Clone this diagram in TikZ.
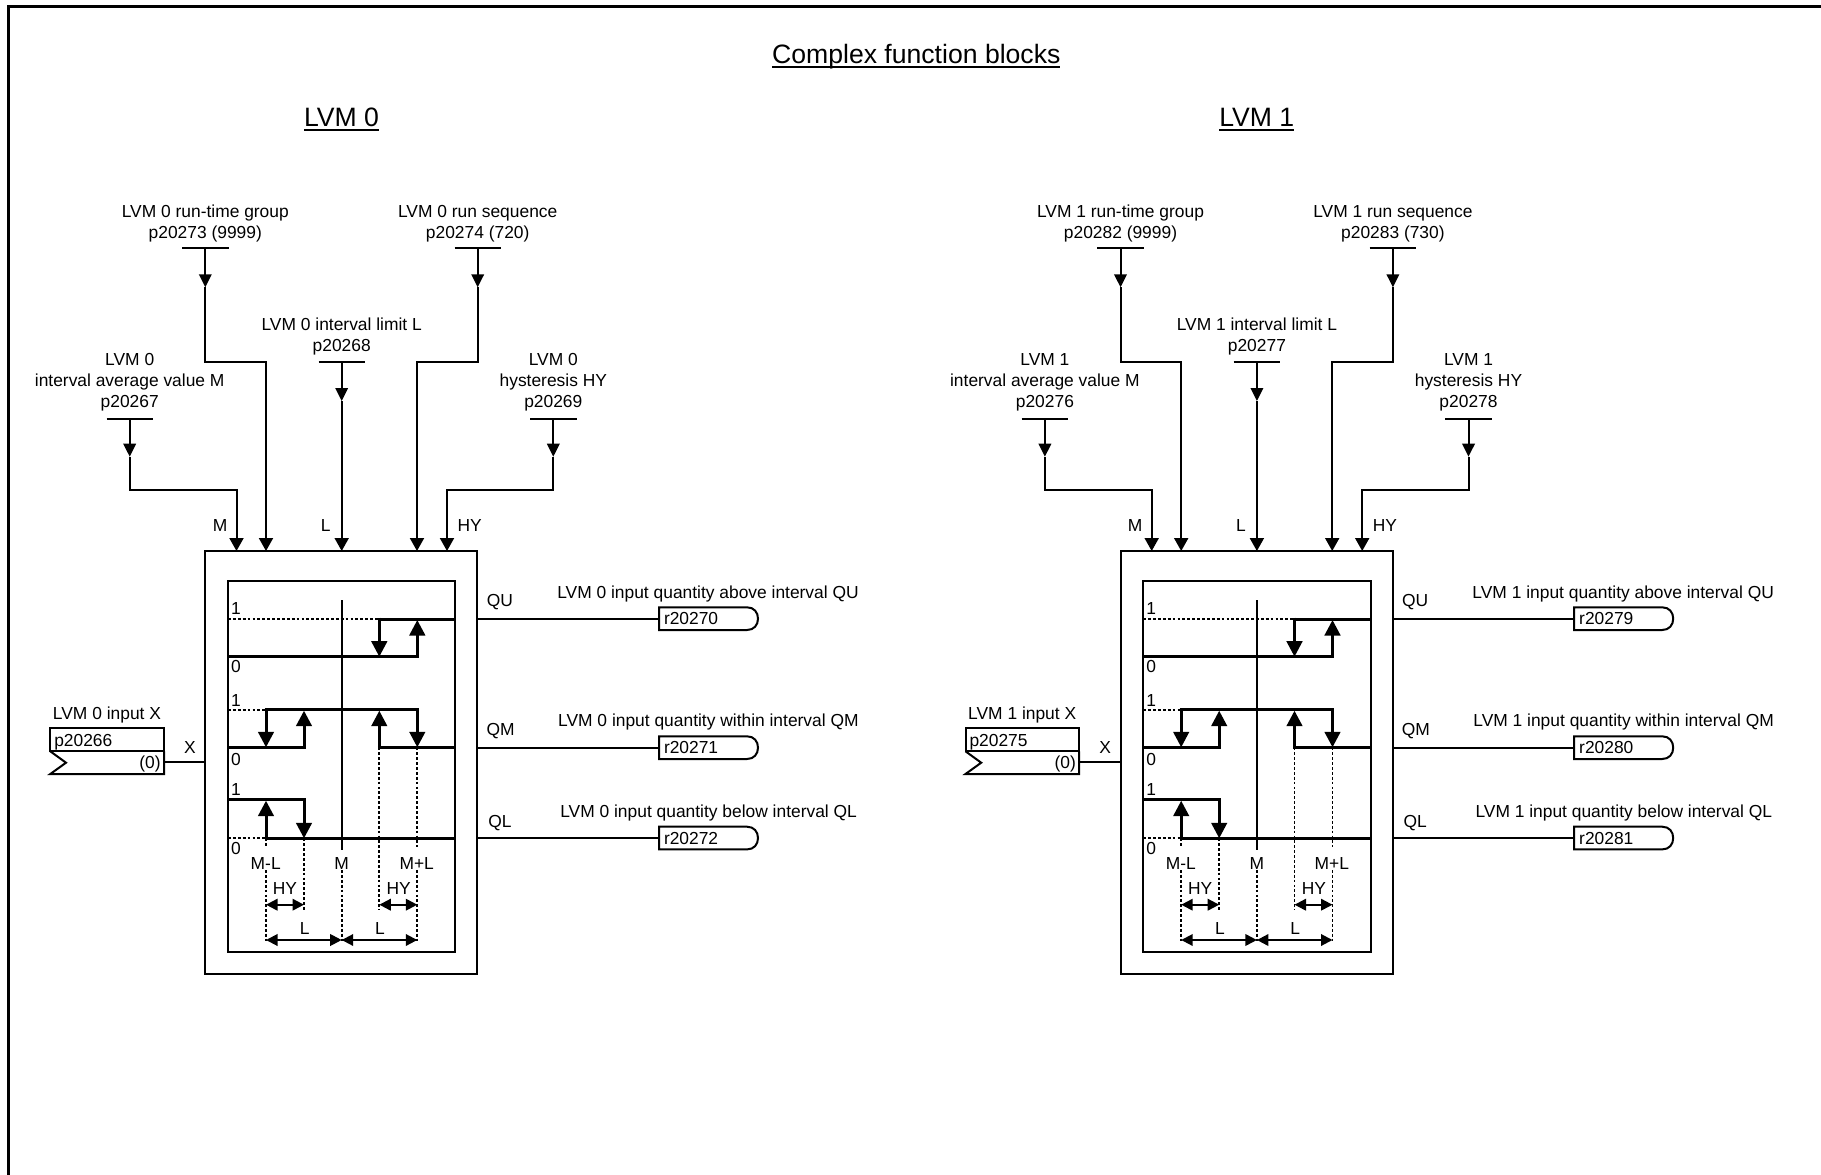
\documentclass[tikz,border=0pt]{standalone}
\usepackage{fontspec}
\setmainfont{Liberation Sans}
\usetikzlibrary{arrows.meta}
\tikzset{
  txt/.style={inner sep=0pt,outer sep=0pt,text height=12.4pt,text depth=0pt,font=\fontsize{17.4}{21.2}\selectfont},
  ml/.style={txt,align=center},
  head/.style={inner sep=0pt,outer sep=0pt,text height=18.6pt,text depth=0pt,font=\fontsize{26.6}{30}\selectfont},
  headrule/.style={line width=2pt},
  frameline/.style={line width=3.4pt,line cap=butt,line join=miter},
  wire/.style={line width=2pt,line join=miter},
  curve/.style={line width=3pt,line join=miter,line cap=butt},
  dots/.style={line width=1.9pt,dash pattern=on 2.8pt off 2.1pt},
  inhead/.style={wire,-{Triangle[width=14pt,length=13pt]}},
  midhead/.style={wire,-{Triangle[width=12.5pt,length=13pt]}},
  curvehead/.style={curve,-{Triangle[width=15.5pt,length=15.5pt]}},
  dimline/.style={line width=2pt,{Triangle[width=11.5pt,length=11.5pt]}-{Triangle[width=11.5pt,length=11.5pt]}},
  blockbox/.style={draw,line width=2pt,inner sep=0pt,outer sep=0pt},
  outbox/.style={txt,anchor=north west,text width=89pt,align=left,inner xsep=5pt,inner ysep=5pt,minimum height=22.7pt}
}
\begin{document}
\begin{tikzpicture}[x=1pt,y=-1pt]
\useasboundingbox (0,0) rectangle (1821,1175);
\fill[white] (0,0) rectangle (1821,1175);
\coordinate (fa) at (8.7,1175);
\coordinate (fb) at (8.7,6.7);
\coordinate (fc) at (1821,6.7);
\draw[frameline] (fa) -- (fb) -- (fc);
\node[head] (title) at (916.3,54.3) {Complex function blocks};
\draw[headrule] ([yshift=-3.8pt]title.south west) -- ([yshift=-3.8pt]title.south east);
\foreach \sh/\nn/\pX/\pM/\pL/\pH/\rU/\rM/\rL/\pG/\pS/\vS in
  {0/0/20266/20267/20268/20269/20270/20271/20272/20273/20274/720,
   915.2/1/20275/20276/20277/20278/20279/20280/20281/20282/20283/730}{
\begin{scope}[xshift=\sh pt,name prefix=b\nn-]
  \node[head] (name) at (341.5,117.5) {LVM \nn};
  \draw[headrule] ([yshift=-3.2pt]name.south west) -- ([yshift=-3.2pt]name.south east);
  % main blocks
  \node[blockbox,minimum width=272pt,minimum height=423.3pt] (blk) at (341.3,762.7) {};
  \node[blockbox,minimum width=227.3pt,minimum height=371pt] (inner) at (341.7,766.5) {};
  % input labels (anchored on their last line)
  \node[ml] (tG) at (205.3,232.6) {LVM \nn{} run-time group\\p\pG{} (9999)};
  \node[ml] (tS) at (477.7,232.6) {LVM \nn{} run sequence\\p\pS{} (\vS)};
  \node[ml] (tL) at (341.7,345.4) {LVM \nn{} interval limit L\\p\pL};
  \node[ml] (tM) at (129.7,401.7) {LVM \nn\\interval average value M\\p\pM};
  \node[ml] (tH) at (553.3,401.7) {LVM \nn\\hysteresis HY\\p\pH};
  % input bars
  \coordinate (G) at (205.3,248.3);
  \coordinate (S) at (477.7,248.3);
  \coordinate (L) at (341.7,362);
  \coordinate (M) at (129.7,418.7);
  \coordinate (H) at (553.3,418.7);
  \foreach \q in {G,S,L,M,H}{\draw[wire] ([xshift=-23.2pt]\q) -- ([xshift=23.2pt]\q);}
  % tips on the stems
  \coordinate (Gm) at (205.3,287.3);
  \coordinate (Sm) at (477.7,287.3);
  \coordinate (Lm) at (341.7,401);
  \coordinate (Mm) at (129.7,456.7);
  \coordinate (Hm) at (553.3,456.7);
  \foreach \q in {G,S,L,M,H}{\draw[midhead] (\q) -- (\q m);}
  % entries on the block
  \coordinate (iM) at (236.5,551);
  \coordinate (iG) at (266,551);
  \coordinate (iL) at (341.7,551);
  \coordinate (iS) at (417,551);
  \coordinate (iH) at (447,551);
  \coordinate (kG) at (266,362);
  \coordinate (kS) at (417,362);
  \coordinate (kM) at (236.5,490.3);
  \coordinate (kH) at (447,490.3);
  \draw[inhead] (Gm) |- (kG) -- (iG);
  \draw[inhead] (Sm) |- (kS) -- (iS);
  \draw[inhead] (Mm) |- (kM) -- (iM);
  \draw[inhead] (Hm) |- (kH) -- (iH);
  \draw[inhead] (Lm) -- (iL);
  \node[txt] (lM) at (220,525) {M};
  \node[txt] (lL) at (325.7,525) {L};
  \node[txt] (lH) at (469.7,525) {HY};
  % input X
  \node[txt] (tX) at (107,713) {LVM \nn{} input X};
  \node[blockbox,txt,anchor=north west,text width=105.7pt,align=left,minimum height=23pt,inner xsep=4pt,inner ysep=5pt] (pX) at (50.3,728.3) {p\pX};
  \draw[wire] (pX.south west) -- ++(15.7,11.4) -- ++(-15.7,11.3) -- ++(113.7,0) -- (pX.south east);
  \node[txt,anchor=east] (vX) at (160.7,762.7) {(0)};
  \coordinate (xo) at (164,762.3);
  \draw[wire] (xo) -- (xo -| blk.west);
  \node[txt] (lX) at (190,747.3) {X};
  % outputs
  \node[ml] (tU) at (708,592) {LVM \nn{} input quantity above interval QU};
  \node[ml] (tQ) at (708.4,720) {LVM \nn{} input quantity within interval QM};
  \node[ml] (tD) at (708.6,811.7) {LVM \nn{} input quantity below interval QL};
  \node[outbox] (oU) at (659,607.3) {r\rU};
  \node[outbox] (oQ) at (659,736.3) {r\rM};
  \node[outbox] (oD) at (659,826.7) {r\rL};
  \foreach \q in {oU,oQ,oD}{
    \draw[wire] (\q.south west) -- ([xshift=-11pt]\q.south east)
      .. controls ([xshift=-4pt]\q.south east) and ([yshift=5pt]\q.south east) .. (\q.east)
      .. controls ([yshift=-5pt]\q.north east) and ([xshift=-4pt]\q.north east) .. ([xshift=-11pt]\q.north east)
      -- (\q.north west) -- cycle;
    \draw[wire] (\q.west) -- (\q.west -| blk.east);
  }
  \node[txt] (lU) at (500,600.7) {QU};
  \node[txt] (lQ) at (500.7,729.7) {QM};
  \node[txt] (lD) at (500,821.7) {QL};
  % diagram inside
  \draw[wire] (341.7,600) -- (341.7,850);
  \draw[dots] (341.7,870) -- (341.7,943);
  \draw[dots] (228,619) -- (379.3,619);
  \draw[dots] (228,709.7) -- (266,709.7);
  \draw[dots] (228,838.3) -- (266,838.3);
  \draw[dots] (266,838.3) -- (266,847);
  \draw[dots] (266,870) -- (266,943);
  \draw[dots] (304,838.3) -- (304,910);
  \draw[dots] (379.3,747.3) -- (379.3,910);
  \draw[dots] (417.3,747.3) -- (417.3,847);
  \draw[dots] (417.3,870) -- (417.3,943);
  % upper curve
  \draw[curve] (228,656.7) -- (418.8,656.7);
  \draw[curvehead] (417.3,656.7) -- (417.3,620);
  \draw[curve] (377.8,619) -- (455.3,619);
  \draw[curvehead] (379.3,617.5) -- (379.3,656.7);
  % middle curve
  \draw[curve] (228,747.3) -- (305.5,747.3);
  \draw[curvehead] (304,748.8) -- (304,710.7);
  \draw[curve] (264.5,709.7) -- (418.8,709.7);
  \draw[curvehead] (266,708.2) -- (266,747.3);
  \draw[curvehead] (417.3,708.2) -- (417.3,747.3);
  \draw[curvehead] (379.3,748.8) -- (379.3,710.7);
  \draw[curve] (377.8,747.3) -- (455.3,747.3);
  % lower curve
  \draw[curve] (228,799.7) -- (305.5,799.7);
  \draw[curvehead] (304,798.2) -- (304,838.3);
  \draw[curvehead] (266,839.8) -- (266,800.7);
  \draw[curve] (264.5,838.3) -- (455.3,838.3);
  % levels
  \node[txt] (a1) at (236,608) {1};
  \node[txt] (a0) at (236,666.7) {0};
  \node[txt] (c1) at (236,700) {1};
  \node[txt] (c0) at (236,759.3) {0};
  \node[txt] (d1) at (236,789) {1};
  \node[txt] (d0) at (236,848.3) {0};
  \node[txt] (mml) at (265.7,863) {M-L};
  \node[txt] (mm) at (341.7,863) {M};
  \node[txt] (mpl) at (416.7,863) {M+L};
  \node[txt] (hy1) at (285,888.3) {HY};
  \node[txt] (hy2) at (398.7,888.3) {HY};
  \node[txt] (l1) at (304.7,928.3) {L};
  \node[txt] (l2) at (380,928.3) {L};
  \draw[dimline] (266,904.7) -- (304,904.7);
  \draw[dimline] (379.3,904.7) -- (417.3,904.7);
  \draw[dimline] (266,940) -- (341.7,940);
  \draw[dimline] (341.7,940) -- (417.3,940);
\end{scope}
}
\end{tikzpicture}
\end{document}
